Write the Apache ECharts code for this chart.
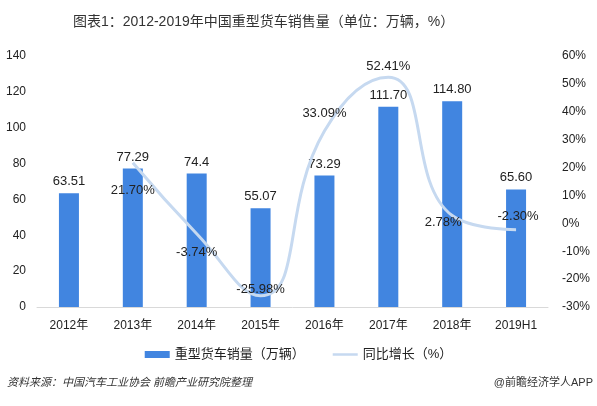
<!DOCTYPE html>
<html><head><meta charset="utf-8">
<script src="https://cdn.jsdelivr.net/npm/echarts@6/dist/echarts.min.js"></script>
<style>html,body{margin:0;padding:0;background:#fff}#c{width:597px;height:406px}</style>
</head><body><div id="c"></div>
<script>
var categories = ['2012年','2013年','2014年','2015年','2016年','2017年','2018年','2019H1'];
var salesValues = [63.51, 77.29, 74.4, 55.07, 73.29, 111.70, 114.80, 65.60];
var salesLabels = ['63.51','77.29','74.4','55.07','73.29','111.70','114.80','65.60'];
var growthValues = [null, 21.70, -3.74, -25.98, 33.09, 52.41, 2.78, -2.30];
var leftTicks = [0, 20, 40, 60, 80, 100, 120, 140];
var rightTicks = [-30, -20, -10, 0, 10, 20, 30, 40, 50, 60];

var FONT = '"Liberation Sans","Noto Sans CJK SC",sans-serif';
var labelPlacement = [null,
  {position:'bottom', distance:21},
  {position:'bottom', distance:12},
  {position:'top', distance:0},
  {position:'top', distance:11},
  {position:'top', distance:4},
  {position:'bottom', distance:0, offset:[-9,0]},
  {position:'top', distance:7, offset:[2,0]}
];
var lineData = growthValues.map(function(v,i){
  if (v === null) return null;
  var p = labelPlacement[i];
  return {value:v, label:{position:p.position, distance:p.distance, offset:p.offset||[0,0]}};
});
var barData = salesValues.map(function(v,i){ return {value:v, label:{formatter:salesLabels[i]}}; });

var chart = echarts.init(document.getElementById('c'));
chart.setOption({
  animation:false,
  title:{text:'图表1：2012-2019年中国重型货车销售量（单位：万辆，%）', left:68, top:10,
    textStyle:{fontSize:14, fontWeight:'normal', color:'#333', fontFamily:FONT}},
  grid:{left:37, right:49, top:56, bottom:99},
  legend:{bottom:40, left:'center', itemGap:28, itemWidth:25, itemHeight:7,
    textStyle:{fontSize:13, color:'#222', fontFamily:FONT},
    data:[{name:'重型货车销量（万辆）', icon:'rect'},
          {name:'同比增长（%）', icon:'path://M0,0h40v4h-40z', itemStyle:{color:'#c6d9f0'}}]},
  xAxis:{type:'category', data:categories,
    axisLine:{lineStyle:{color:'#d9d9d9', width:1}}, axisTick:{show:false},
    axisLabel:{color:'#222', fontSize:12, fontFamily:FONT, margin:13}},
  yAxis:[
    {type:'value', min:0, max:140, interval:20, splitLine:{show:false}, axisLine:{show:false}, axisTick:{show:false},
     axisLabel:{color:'#222', fontSize:12, fontFamily:FONT, margin:11}},
    {type:'value', min:-30, max:60, interval:10, splitLine:{show:false}, axisLine:{show:false}, axisTick:{show:false},
     axisLabel:{color:'#222', fontSize:12, fontFamily:FONT, margin:14, formatter:'{value}%'}}
  ],
  series:[
    {name:'重型货车销量（万辆）', type:'bar', data:barData, barWidth:20, itemStyle:{color:'#4185E0'},
     label:{show:true, position:'top', distance:5, color:'#222', fontSize:13, fontFamily:FONT}},
    {name:'同比增长（%）', type:'line', yAxisIndex:1, data:lineData, smooth:0.5, showSymbol:true, symbol:'circle', symbolSize:0.01,
     connectNulls:false, lineStyle:{color:'#c6d9f0', width:3}, itemStyle:{color:'#c6d9f0'},
     label:{show:true, color:'#222', fontSize:13, fontFamily:FONT,
       formatter:function(p){ return (+p.value).toFixed(2)+'%'; }}}
  ],
  graphic:[
    {type:'text', left:7, top:377, style:{text:'资料来源：中国汽车工业协会 前瞻产业研究院整理', fontSize:11, fontStyle:'italic', fill:'#333', fontFamily:FONT}},
    {type:'text', right:4, top:377, style:{text:'@前瞻经济学人APP', fontSize:11, fill:'#333', fontFamily:FONT}}
  ]
});
</script></body></html>
